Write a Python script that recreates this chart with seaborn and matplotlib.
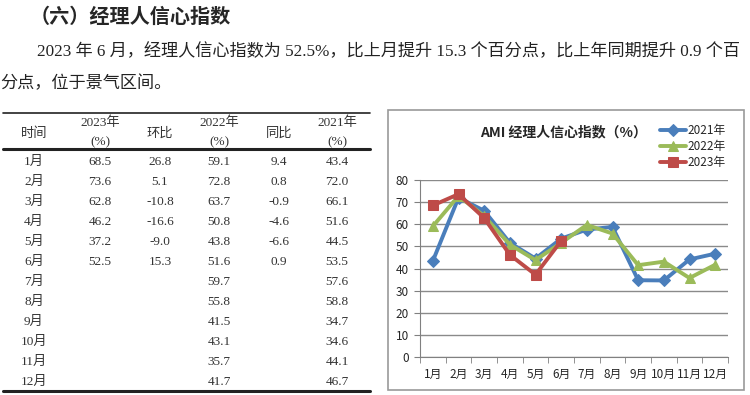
import numpy as np
import pandas as pd
import matplotlib
matplotlib.use("Agg")
import matplotlib.pyplot as plt
import seaborn as sns
from matplotlib.lines import Line2D
from matplotlib.patches import Rectangle

# 数据
months = ["1月", "2月", "3月", "4月", "5月", "6月", "7月", "8月", "9月", "10月", "11月", "12月"]
v2021 = [43.4, 72.0, 66.1, 51.6, 44.5, 53.5, 57.6, 58.8, 34.7, 34.6, 44.1, 46.7]
v2022 = [59.1, 72.8, 63.7, 50.8, 43.8, 51.6, 59.7, 55.8, 41.5, 43.1, 35.7, 41.7]
v2023 = [68.5, 73.6, 62.8, 46.2, 37.2, 52.5]
mom_2023 = [26.8, 5.1, -10.8, -16.6, -9.0, 15.3]
yoy_2023 = [9.4, 0.8, -0.9, -4.6, -6.6, 0.9]

heading = "（六）经理人信心指数"
para1 = "2023 年 6 月，经理人信心指数为 52.5%，比上月提升 15.3 个百分点，比上年同期提升 0.9 个百"
para2 = "分点，位于景气区间。"
chart_title = "AMI 经理人信心指数（%）"

sns.set_style("white")
plt.rcParams["font.family"] = ["Noto Sans CJK SC", "DejaVu Sans"]
serif = ["Liberation Serif", "Noto Sans CJK SC"]

W, H = 750, 395
fig = plt.figure(figsize=(7.5, 3.95), dpi=100)


def fx(px):
    return px / W


def fy(py):
    return 1 - py / H


# 标题和正文
fig.text(fx(30), fy(16), heading, fontsize=14.5, fontweight="bold", va="center", ha="left")
fig.text(fx(37), fy(52), para1, fontsize=12.35, va="center", ha="left", family=serif, color="#222222")
fig.text(fx(0), fy(84), para2, fontsize=12.35, va="center", ha="left", family=serif, color="#222222")

# 表格
tx = {"time": 34, "y23": 100, "mom": 160, "y22": 219, "yoy": 279, "y21": 337}
fs_tab = 9.5
tc = "#333333"
fig.text(fx(tx["time"]), fy(133), "时间", fontsize=fs_tab, ha="center", va="center", color=tc)
fig.text(fx(tx["mom"]), fy(133), "环比", fontsize=fs_tab, ha="center", va="center", color=tc)
fig.text(fx(tx["yoy"]), fy(133), "同比", fontsize=fs_tab, ha="center", va="center", color=tc)
for key, yr in [("y23", "2023年"), ("y22", "2022年"), ("y21", "2021年")]:
    fig.text(fx(tx[key]), fy(123), yr, fontsize=fs_tab, ha="center", va="center", family=serif, color=tc)
    fig.text(fx(tx[key]), fy(142), "(%)", fontsize=fs_tab, ha="center", va="center", family=serif, color=tc)

for i, m in enumerate(months):
    yy = fy(162 + 20 * i)
    fig.text(fx(tx["time"]), yy, m, fontsize=fs_tab, ha="center", va="center", family=serif, color=tc)
    fig.text(fx(tx["y22"]), yy, f"{v2022[i]:.1f}", fontsize=fs_tab, ha="center", va="center", family=serif, color=tc)
    fig.text(fx(tx["y21"]), yy, f"{v2021[i]:.1f}", fontsize=fs_tab, ha="center", va="center", family=serif, color=tc)
    if i < len(v2023):
        fig.text(fx(tx["y23"]), yy, f"{v2023[i]:.1f}", fontsize=fs_tab, ha="center", va="center", family=serif, color=tc)
        fig.text(fx(tx["mom"]), yy, f"{mom_2023[i]:.1f}", fontsize=fs_tab, ha="center", va="center", family=serif, color=tc)
        fig.text(fx(tx["yoy"]), yy, f"{yoy_2023[i]:.1f}", fontsize=fs_tab, ha="center", va="center", family=serif, color=tc)

for py, lw in [(113, 1.2), (149, 2.2), (391, 2.2)]:
    fig.add_artist(Line2D([fx(3), fx(370)], [fy(py), fy(py)], color="#222222", lw=lw, transform=fig.transFigure))

# 图表外框
fig.add_artist(Rectangle((fx(388), fy(390)), fx(744) - fx(388), (390 - 110) / H,
                         transform=fig.transFigure, fill=False, edgecolor="#9a9a9a", lw=1.2))
fig.text(fx(563), fy(132), chart_title, fontsize=10, fontweight="bold", ha="center", va="center")

ax = fig.add_axes([fx(420), fy(357), fx(728) - fx(420), (357 - 180) / H])
xs = np.arange(len(months))
series = [("2021年", v2021, "#4a7ebb", "D", 6), ("2022年", v2022, "#9bbb59", "^", 7), ("2023年", v2023, "#be4b48", "s", 7)]
for lab, vals, col, mk, ms in series:
    sns.lineplot(x=xs[:len(vals)], y=vals, ax=ax, color=col, lw=2.8, marker=mk, markersize=ms,
                 mec=col, mfc=col, label=lab)

ax.set_xlim(-0.5, 11.5)
ax.set_ylim(0, 80)
ax.set_yticks(np.arange(0, 81, 10))
ax.set_xticks(xs)
ax.set_xticklabels(months)
ax.set_xticks(np.arange(-0.5, 12, 1), minor=True)
ax.tick_params(axis="x", which="major", length=0, labelsize=8.5, pad=8)
ax.tick_params(axis="x", which="minor", length=4, color="#808080", direction="out", bottom=True)
ax.tick_params(axis="y", length=4, color="#808080", direction="out", left=True, labelsize=8.5, pad=4)
ax.yaxis.grid(True, color="#8a8a8a", lw=1)
ax.set_axisbelow(True)
for s in ["top", "right"]:
    ax.spines[s].set_visible(False)
for s in ["left", "bottom"]:
    ax.spines[s].set_color("#808080")
ax.set_xlabel("")
ax.set_ylabel("")

ax.legend(loc="upper left", bbox_to_anchor=(fx(660), fy(124)), bbox_transform=fig.transFigure,
          frameon=False, fontsize=8.5, handlelength=2.2, handletextpad=0.1, labelspacing=0.25,
          borderaxespad=0, borderpad=0)

fig.savefig("out.png", dpi=100)
